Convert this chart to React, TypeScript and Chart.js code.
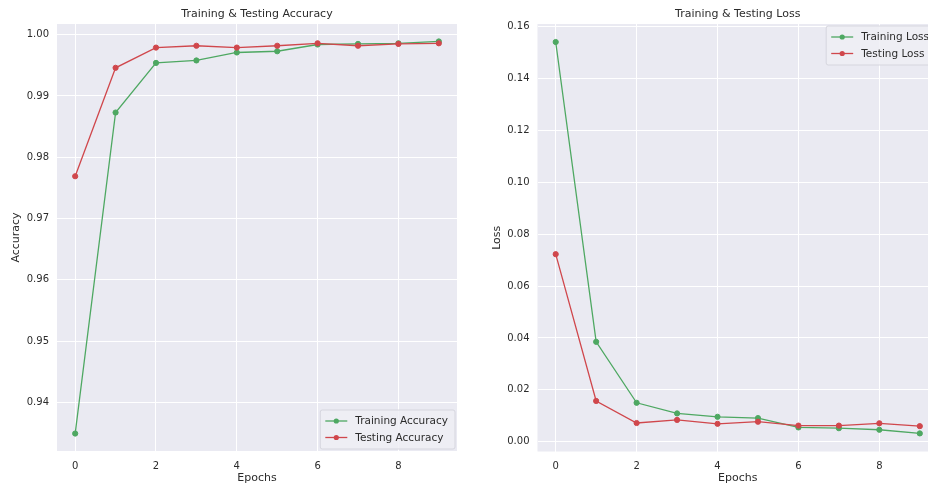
import React, { useEffect, useRef } from 'react';
import { Chart, registerables } from 'chart.js';

Chart.register(...registerables);

const epochs = [0, 1, 2, 3, 4, 5, 6, 7, 8, 9];
const trainingAccuracy = [0.9349, 0.9873, 0.9954, 0.9958, 0.9971, 0.9973, 0.9984, 0.9985, 0.9986, 0.9989];
const testingAccuracy = [0.9769, 0.9946, 0.9979, 0.9982, 0.9979, 0.9982, 0.9986, 0.9982, 0.9985, 0.9986];
const trainingLoss = [0.1541, 0.0385, 0.015, 0.0109, 0.0096, 0.0091, 0.0055, 0.0052, 0.0046, 0.0032];
const testingLoss = [0.0723, 0.0157, 0.0072, 0.0084, 0.0069, 0.0077, 0.0062, 0.0062, 0.0071, 0.006];
const epochTicks = [0, 2, 4, 6, 8];
const accuracyTicks = [0.94, 0.95, 0.96, 0.97, 0.98, 0.99, 1.0];
const lossTicks = [0, 0.02, 0.04, 0.06, 0.08, 0.1, 0.12, 0.14, 0.16];

const GREEN = '#4ea862';
const RED = '#d0474c';
const FONT = 'DejaVu Sans';
const TEXT = '#2b2b2b';
const BG = '#EAEAF2';

function bgPlugin() {
  return {
    id: 'axesBg',
    beforeDraw(chart: any) {
      const { ctx, chartArea: a } = chart;
      ctx.save();
      ctx.fillStyle = '#ffffff';
      ctx.fillRect(0, 0, chart.width, chart.height);
      ctx.fillStyle = BG;
      ctx.fillRect(a.left, a.top, a.right - a.left, a.bottom - a.top);
      ctx.restore();
    },
  };
}

function legendPlugin(corner: 'lowerRight' | 'upperRight') {
  return {
    id: 'insideLegend',
    afterDraw(chart: any) {
      const { ctx, chartArea: a } = chart;
      const ds = chart.data.datasets;
      ctx.save();
      ctx.font = `10.5px "${FONT}"`;
      let tw = 0;
      ds.forEach((d: any) => {
        tw = Math.max(tw, ctx.measureText(d.label).width);
      });
      const w = 5 + 22 + 8 + tw + 7;
      const h = 39;
      const right = a.right - 2;
      const left = right - w;
      const top = corner === 'lowerRight' ? a.bottom - 2 - h : a.top + 2;
      ctx.beginPath();
      if (ctx.roundRect) ctx.roundRect(left, top, w, h, 2);
      else ctx.rect(left, top, w, h);
      ctx.fillStyle = 'rgba(238,238,245,0.85)';
      ctx.fill();
      ctx.strokeStyle = '#d6d6de';
      ctx.lineWidth = 1;
      ctx.stroke();
      ds.forEach((d: any, i: number) => {
        const cy = top + 11 + i * 16.5;
        const x0 = left + 5;
        ctx.strokeStyle = d.borderColor;
        ctx.lineWidth = 1.3;
        ctx.beginPath();
        ctx.moveTo(x0, cy);
        ctx.lineTo(x0 + 22, cy);
        ctx.stroke();
        ctx.fillStyle = d.borderColor;
        ctx.beginPath();
        ctx.arc(x0 + 11, cy, 2.6, 0, Math.PI * 2);
        ctx.fill();
        ctx.fillStyle = TEXT;
        ctx.textBaseline = 'middle';
        ctx.textAlign = 'left';
        ctx.fillText(d.label, x0 + 30, cy + 0.5);
      });
      ctx.restore();
    },
  };
}

type Params = {
  title: string;
  yLabel: string;
  train: number[];
  test: number[];
  trainLabel: string;
  testLabel: string;
  yTicks: number[];
  yMin: number;
  yMax: number;
  yWidth: number;
  yTitlePad: number;
  padRight: number;
  xHeight: number;
  corner: 'lowerRight' | 'upperRight';
};

function makeConfig(p: Params): any {
  const font = { family: FONT, size: 10 };
  const labelFont = { family: FONT, size: 11 };
  const mk = (label: string, values: number[], color: string, order: number) => ({
    label,
    data: epochs.map((e, i) => ({ x: e, y: values[i] })),
    borderColor: color,
    backgroundColor: color,
    borderWidth: 1.3,
    pointRadius: 2.6,
    pointBorderWidth: 1,
    pointBackgroundColor: color,
    pointBorderColor: color,
    tension: 0,
    fill: false,
    order,
  });
  return {
    type: 'line',
    data: {
      datasets: [mk(p.trainLabel, p.train, GREEN, 1), mk(p.testLabel, p.test, RED, 0)],
    },
    options: {
      responsive: false,
      animation: false,
      devicePixelRatio: 1,
      layout: { padding: { left: 0, right: p.padRight, top: 0, bottom: 0 } },
      plugins: {
        legend: { display: false },
        tooltip: { enabled: false },
        title: {
          display: true,
          text: p.title,
          fullSize: false,
          color: TEXT,
          font: { family: FONT, size: 11, weight: 'normal', lineHeight: '14px' },
          padding: { top: 7, bottom: 3 },
        },
      },
      scales: {
        x: {
          type: 'linear',
          min: -0.45,
          max: 9.45,
          afterBuildTicks: (s: any) => {
            s.ticks = epochTicks.map((v) => ({ value: v }));
          },
          afterFit: (s: any) => {
            s.height = p.xHeight;
          },
          grid: { color: '#ffffff', lineWidth: 1, drawTicks: false },
          border: { display: false },
          ticks: { padding: 9, font, color: TEXT, maxRotation: 0, callback: (v: any) => String(v) },
          title: {
            display: true,
            text: 'Epochs',
            color: TEXT,
            font: labelFont,
            padding: { top: 0, bottom: 1 },
          },
        },
        y: {
          type: 'linear',
          min: p.yMin,
          max: p.yMax,
          afterBuildTicks: (s: any) => {
            s.ticks = p.yTicks.map((v) => ({ value: v }));
          },
          afterFit: (s: any) => {
            s.width = p.yWidth;
          },
          grid: { color: '#ffffff', lineWidth: 1, drawTicks: false },
          border: { display: false },
          ticks: { padding: 8, font, color: TEXT, callback: (v: any) => Number(v).toFixed(2) },
          title: {
            display: true,
            text: p.yLabel,
            color: TEXT,
            font: labelFont,
            padding: { top: p.yTitlePad, bottom: 0 },
          },
        },
      },
    },
    plugins: [bgPlugin(), legendPlugin(p.corner)],
  };
}

function ChartCanvas({ params, left, width }: { params: Params; left: number; width: number }) {
  const ref = useRef<HTMLCanvasElement>(null);
  useEffect(() => {
    const chart = new Chart(ref.current as HTMLCanvasElement, makeConfig(params));
    return () => chart.destroy();
  }, []);
  return (
    <canvas
      ref={ref}
      width={width}
      height={486}
      style={{ position: 'absolute', left, top: 0, width, height: 486 }}
    />
  );
}

const accuracyParams: Params = {
  title: 'Training & Testing Accuracy',
  yLabel: 'Accuracy',
  train: trainingAccuracy,
  test: testingAccuracy,
  trainLabel: 'Training Accuracy',
  testLabel: 'Testing Accuracy',
  yTicks: accuracyTicks,
  yMin: 0.93205,
  yMax: 1.00175,
  yWidth: 57,
  yTitlePad: 9.5,
  padRight: 13,
  xHeight: 35,
  corner: 'lowerRight',
};

const lossParams: Params = {
  title: 'Training & Testing Loss',
  yLabel: 'Loss',
  train: trainingLoss,
  test: testingLoss,
  trainLabel: 'Training Loss',
  testLabel: 'Testing Loss',
  yTicks: lossTicks,
  yMin: -0.00378,
  yMax: 0.16104,
  yWidth: 67.5,
  yTitlePad: 21,
  padRight: 12,
  xHeight: 34.5,
  corner: 'upperRight',
};

export default function App() {
  return (
    <div
      style={{
        position: 'absolute',
        left: 0,
        top: 0,
        width: 928,
        height: 486,
        overflow: 'hidden',
        background: '#ffffff',
      }}
    >
      <ChartCanvas params={accuracyParams} left={0} width={470} />
      <ChartCanvas params={lossParams} left={470} width={480} />
    </div>
  );
}
